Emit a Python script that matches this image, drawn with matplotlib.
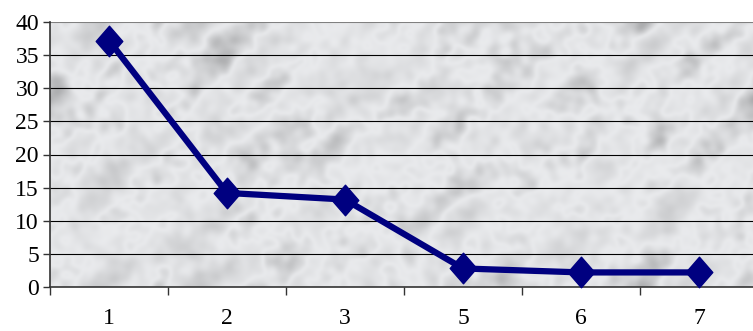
import numpy as np
import matplotlib
matplotlib.use("Agg")
import matplotlib.pyplot as plt
from matplotlib.path import Path

categories = ["1", "2", "3", "5", "6", "7"]
values = [37.2, 14.2, 13.2, 2.8, 2.2, 2.2]
y_ticks = [0, 5, 10, 15, 20, 25, 30, 35, 40]

plt.rcParams["font.family"] = ["Liberation Serif", "DejaVu Serif"]

W, H = 753, 331
fig = plt.figure(figsize=(W / 100, H / 100), dpi=100)
left, right = 50, 758
top, bottom = 22, 287
ax = fig.add_axes([left / W, (H - bottom) / H, (right - left) / W, (bottom - top) / H])

# marble-like backdrop: blurred noise with diagonal streaks
rng = np.random.default_rng(7)
ny, nx = 132, 354
noise = rng.standard_normal((ny, nx))
fy = np.fft.fftfreq(ny)[:, None]
fx = np.fft.fftfreq(nx)[None, :]
u = (fx + fy) / np.sqrt(2)
v = (fx - fy) / np.sqrt(2)
filt = np.exp(-((u / 0.05) ** 2 + (v / 0.02) ** 2))
tex = np.real(np.fft.ifft2(np.fft.fft2(noise) * filt))
fine = np.real(np.fft.ifft2(np.fft.fft2(rng.standard_normal((ny, nx))) *
                            np.exp(-((fx / 0.12) ** 2 + (fy / 0.12) ** 2))))
tex = tex / tex.std() * 0.7 + fine / fine.std() * 0.35
shade = np.clip(0.93 - 0.07 * np.abs(tex) - 0.02 * tex, 0.62, 0.98)
img = np.stack([shade * 0.985, shade * 0.99, shade * 1.0], axis=-1)
img = np.clip(img, 0, 1)
ax.imshow(img, extent=(-0.5, len(categories) - 0.5, 0, 40), aspect="auto",
          interpolation="bicubic", zorder=0)

x = np.arange(len(categories))
for yv in y_ticks[1:-1]:
    ax.axhline(yv, color="black", lw=0.8, zorder=1)
ax.axhline(40, color="#808080", lw=1.5, zorder=1)

diamond = Path([(0, 1), (0.87, 0), (0, -1), (-0.87, 0), (0, 1)],
               [Path.MOVETO, Path.LINETO, Path.LINETO, Path.LINETO, Path.CLOSEPOLY])
ax.plot(x, values, color="#000080", lw=4.5, marker=diamond, markersize=22,
        markerfacecolor="#000080", markeredgecolor="#000080", zorder=3,
        clip_on=False, solid_joinstyle="round")

ax.set_xlim(-0.5, len(categories) - 0.5)
ax.set_ylim(0, 40)
ax.set_yticks(y_ticks)
ax.set_yticklabels([str(t) for t in y_ticks])
ax.set_xticks(np.arange(len(categories) + 1) - 0.5, minor=False)
ax.set_xticklabels([])
ax.set_xticks(x, minor=True)
ax.set_xticklabels(categories, minor=True)
ax.tick_params(axis="x", which="major", length=6, width=1, color="#333333", direction="out")
ax.tick_params(axis="x", which="minor", length=0, pad=15, labelsize=17)
ax.tick_params(axis="y", length=5, width=1, color="#333333", direction="out",
               pad=3, labelsize=17)

for s in ["top", "right"]:
    ax.spines[s].set_visible(False)
ax.spines["left"].set_color("#333333")
ax.spines["bottom"].set_color("#333333")
ax.spines["left"].set_linewidth(1.2)
ax.spines["bottom"].set_linewidth(1.2)

fig.savefig("out.png", dpi=100)
